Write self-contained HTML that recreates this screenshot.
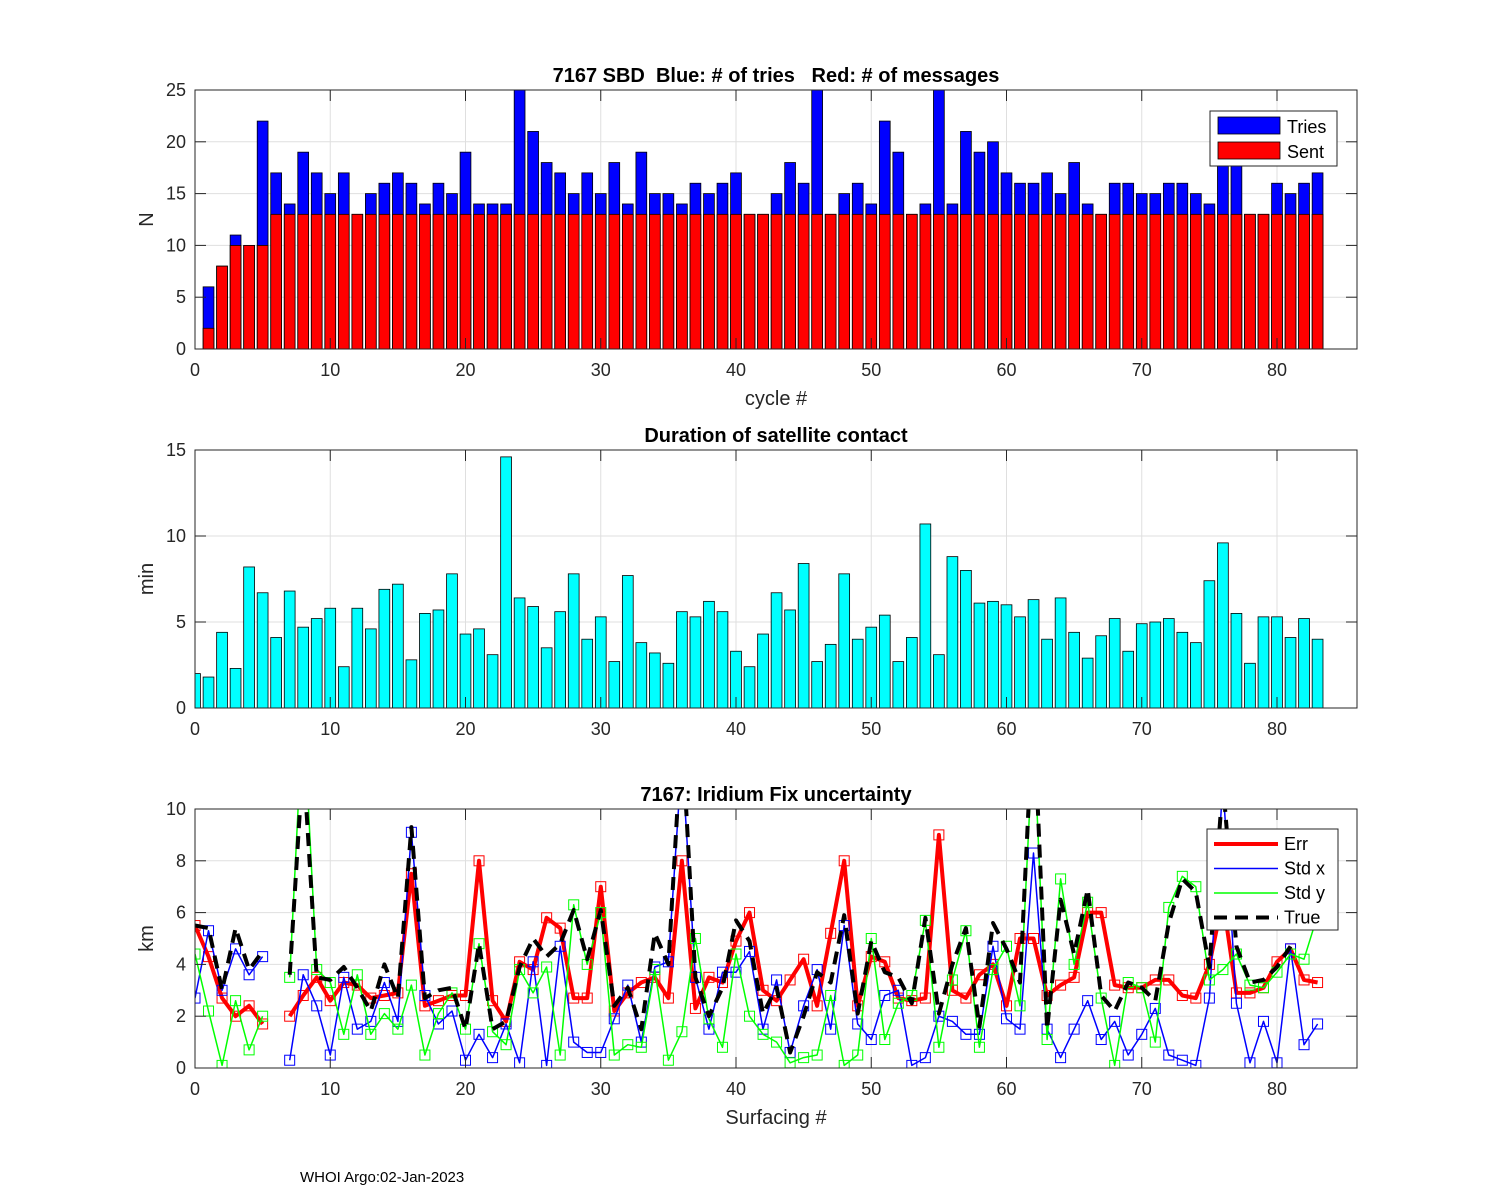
<!DOCTYPE html>
<html><head><meta charset="utf-8"><style>
body{margin:0;background:#fff;}
svg{display:block;font-family:"Liberation Sans",Arial,sans-serif;}
text{white-space:pre;}
</style></head><body>
<svg id="fig" width="1500" height="1200" viewBox="0 0 1500 1200">
<defs>
<clipPath id="c1"><rect x="195" y="90" width="1162" height="259"/></clipPath>
<clipPath id="c2"><rect x="195" y="450" width="1162" height="258"/></clipPath>
<clipPath id="c3"><rect x="195" y="809" width="1162" height="259"/></clipPath>
</defs>
<g id="p1"></g>
<g id="p2"></g>
<g id="p3"></g>
<text x="300" y="1182" font-size="15">WHOI Argo:02-Jan-2023</text>
</svg>
<script>
const cycles = Array.from({length:83},(_, i)=>i+1);
const tries = [6,8,11,10,22,17,14,19,17,15,17,13,15,16,17,16,14,16,15,19,14,14,14,25,21,18,17,15,17,15,18,14,19,15,15,14,16,15,16,17,13,13,15,18,16,25,13,15,16,14,22,19,13,14,25,14,21,19,20,17,16,16,17,15,18,14,13,16,16,15,15,16,16,15,14,18,19,13,13,16,15,16,17];
const sent = [2,8,10,10,10,13,13,13,13,13,13,13,13,13,13,13,13,13,13,13,13,13,13,13,13,13,13,13,13,13,13,13,13,13,13,13,13,13,13,13,13,13,13,13,13,13,13,13,13,13,13,13,13,13,13,13,13,13,13,13,13,13,13,13,13,13,13,13,13,13,13,13,13,13,13,13,13,13,13,13,13,13,13];
const durCycles = Array.from({length:84},(_, i)=>i);
const duration = [2.0,1.8,4.4,2.3,8.2,6.7,4.1,6.8,4.7,5.2,5.8,2.4,5.8,4.6,6.9,7.2,2.8,5.5,5.7,7.8,4.3,4.6,3.1,14.6,6.4,5.9,3.5,5.6,7.8,4.0,5.3,2.7,7.7,3.8,3.2,2.6,5.6,5.3,6.2,5.6,3.3,2.4,4.3,6.7,5.7,8.4,2.7,3.7,7.8,4.0,4.7,5.4,2.7,4.1,10.7,3.1,8.8,8.0,6.1,6.2,6.0,5.3,6.3,4.0,6.4,4.4,2.9,4.2,5.2,3.3,4.9,5.0,5.2,4.4,3.8,7.4,9.6,5.5,2.6,5.3,5.3,4.1,5.2,4.0];
const surf = Array.from({length:84},(_, i)=>i);
const err = [5.5,4.3,2.7,2.0,2.4,1.7,null,2.0,2.8,3.5,2.6,3.3,3.2,2.7,2.8,2.9,7.5,2.4,2.6,2.8,2.8,8.0,2.6,1.8,4.1,3.8,5.8,5.4,2.7,2.7,7.0,2.2,2.9,3.3,3.5,2.7,8.0,2.3,3.5,3.3,4.9,6.0,3.0,2.6,3.4,4.2,2.4,5.2,8.0,2.4,4.3,4.1,2.7,2.6,2.7,9.0,3.0,2.7,3.6,4.0,2.4,5.0,5.0,2.8,3.2,3.5,6.0,6.0,3.2,3.1,3.1,3.4,3.4,2.8,2.7,4.0,6.5,2.9,2.9,3.1,4.1,4.6,3.4,3.3];
const stdx = [2.7,5.3,3.0,4.6,3.6,4.3,null,0.3,3.6,2.4,0.5,3.5,1.5,1.8,3.3,1.8,9.1,2.8,1.7,2.2,0.3,1.3,0.4,1.7,0.2,4.1,0.1,4.7,1.0,0.6,0.6,1.9,3.2,1.0,3.9,4.1,12,3.5,1.5,3.7,3.7,4.5,1.5,3.4,0.6,2.4,3.8,1.5,5.5,1.7,1.1,2.8,3.0,0.1,0.4,2.0,1.8,1.3,1.3,4.7,1.9,1.5,8.3,1.5,0.4,1.5,2.6,1.1,1.8,0.5,1.3,2.3,0.5,0.3,0.1,2.7,11,2.5,0.2,1.8,0.2,4.6,0.9,1.7];
const stdy = [4.4,2.2,0.1,2.6,0.7,2.0,null,3.5,14,3.8,3.3,1.3,3.6,1.3,2.1,1.5,3.2,0.5,2.1,2.9,1.5,4.8,1.4,0.9,3.8,2.9,3.9,0.5,6.3,4.0,6.0,0.5,0.9,0.8,3.8,0.3,1.4,5.0,1.9,0.8,4.4,2.0,1.3,1.0,0.2,0.4,0.5,2.8,0.1,0.5,5.0,1.1,2.5,2.8,5.7,0.8,3.4,5.3,0.8,3.8,4.7,2.4,13,1.1,7.3,4.0,6.4,2.7,0.1,3.3,3.1,1.0,6.2,7.4,7.0,3.4,3.8,4.4,3.2,3.1,3.7,4.4,4.2,5.9];
const trueErr = [5.5,5.4,3.0,5.4,3.8,4.5,null,3.6,12,3.5,3.4,3.9,3.1,2.2,4.0,2.7,9.3,2.7,3.0,3.1,1.5,4.8,1.5,1.8,3.9,5.0,4.3,4.8,6.1,4.2,6.1,2.4,3.1,1.5,5.2,4.0,13,3.5,2.0,3.1,5.7,4.9,2.1,3.1,0.6,2.0,3.7,3.3,5.9,2.1,4.9,3.7,3.5,2.5,5.8,2.1,4.0,5.4,1.6,5.6,4.6,3.3,14,1.5,6.5,4.4,6.9,2.8,2.2,3.3,3.1,2.6,5.6,7.3,6.8,3.9,11,4.7,3.3,3.4,3.9,4.7,null,null];
const x1Ticks = [0,10,20,30,40,50,60,70,80];
const y1Ticks = [0,5,10,15,20,25];
const y2Ticks = [0,5,10,15];
const y3Ticks = [0,2,4,6,8,10];

const NS="http://www.w3.org/2000/svg";
function mk(parent,tag,attrs){const e=document.createElementNS(NS,tag);for(const k in attrs)e.setAttribute(k,attrs[k]);parent.appendChild(e);return e;}
const X0=195,X1=1357,XMAX=(1357-195)/13.525;
function xs(v){return X0+v*(X1-X0)/XMAX;}
function mkY(top,bot,max){return v=>bot-(v/max)*(bot-top);}

function axes(g,top,bot,yTicks,yMax,ys){
  mk(g,'rect',{x:X0,y:top,width:X1-X0,height:bot-top,fill:'#fff'});
  const grid=mk(g,'g',{stroke:'#dfdfdf','stroke-width':1});
  x1Ticks.forEach(t=>{mk(grid,'line',{x1:xs(t),x2:xs(t),y1:top,y2:bot});});
  yTicks.forEach(t=>{mk(grid,'line',{x1:X0,x2:X1,y1:ys(t),y2:ys(t)});});
}
function frame(g,top,bot,yTicks,ys,title,ylabel,xlabel){
  const f=mk(g,'g',{stroke:'#262626','stroke-width':1,fill:'none'});
  mk(f,'rect',{x:X0,y:top,width:X1-X0,height:bot-top});
  x1Ticks.forEach(t=>{mk(f,'line',{x1:xs(t),x2:xs(t),y1:bot,y2:bot-11});mk(f,'line',{x1:xs(t),x2:xs(t),y1:top,y2:top+11});});
  yTicks.forEach(t=>{mk(f,'line',{x1:X0,x2:X0+11,y1:ys(t),y2:ys(t)});mk(f,'line',{x1:X1,x2:X1-11,y1:ys(t),y2:ys(t)});});
  x1Ticks.forEach(t=>{const e=mk(g,'text',{x:xs(t),y:bot+27,'font-size':18,'text-anchor':'middle',fill:'#262626'});e.textContent=t;
    
    });
  yTicks.forEach(t=>{const e=mk(g,'text',{x:X0-9,y:ys(t)+6,'font-size':18,'text-anchor':'end',fill:'#262626'});e.textContent=t;
    
    });
  const tt=mk(g,'text',{x:(X0+X1)/2,y:top-8,'font-size':20,'font-weight':'bold','text-anchor':'middle',fill:'#000','xml:space':'preserve'});tt.textContent=title;
  
  
  const yl=mk(g,'text',{x:0,y:0,'font-size':20,'text-anchor':'middle',fill:'#262626',transform:`translate(153,${(top+bot)/2}) rotate(-90)`});yl.textContent=ylabel;
  
  
  if(xlabel){const xl=mk(g,'text',{x:(X0+X1)/2,y:bot+56,'font-size':20,'text-anchor':'middle',fill:'#262626'});xl.textContent=xlabel;
    
    }
}

// Panel 1
const p1=document.getElementById('p1');const y1=mkY(90,349,25);
axes(p1,90,349,y1Ticks,25,y1);
const b1=mk(p1,'g',{'clip-path':'url(#c1)',stroke:'#000','stroke-width':0.8});
const bw=0.8*(X1-X0)/XMAX;
cycles.forEach((c,i)=>{
  const r=mk(b1,'rect',{x:xs(c)-bw/2,y:y1(tries[i]),width:bw,height:y1(0)-y1(tries[i]),fill:'#0000ff'});
  
  
  const s=mk(b1,'rect',{x:xs(c)-bw/2,y:y1(sent[i]),width:bw,height:y1(0)-y1(sent[i]),fill:'#ff0000'});
  
  
});
frame(p1,90,349,y1Ticks,y1,'7167 SBD  Blue: # of tries   Red: # of messages','N','cycle #');
{const L=mk(p1,'g',{});
 
 
 mk(L,'rect',{x:1210,y:111,width:127,height:55,fill:'#fff',stroke:'#262626','stroke-width':1});
 mk(L,'rect',{x:1218,y:117,width:62,height:17,fill:'#0000ff',stroke:'#000','stroke-width':0.8});
 mk(L,'rect',{x:1218,y:142,width:62,height:17,fill:'#ff0000',stroke:'#000','stroke-width':0.8});
 const a=mk(L,'text',{x:1287,y:133,'font-size':18});a.textContent='Tries';
 const b=mk(L,'text',{x:1287,y:158,'font-size':18});b.textContent='Sent';}

// Panel 2
const p2=document.getElementById('p2');const y2=mkY(450,708,15);
axes(p2,450,708,y2Ticks,15,y2);
const b2=mk(p2,'g',{'clip-path':'url(#c2)',stroke:'#000','stroke-width':0.8});
durCycles.forEach((c,i)=>{
  const r=mk(b2,'rect',{x:xs(c)-bw/2,y:y2(duration[i]),width:bw,height:y2(0)-y2(duration[i]),fill:'#00ffff'});
  
  
});
frame(p2,450,708,y2Ticks,y2,'Duration of satellite contact','min',null);

// Panel 3
const p3=document.getElementById('p3');const y3=mkY(809,1068,10);
axes(p3,809,1068,y3Ticks,10,y3);
const g3=mk(p3,'g',{'clip-path':'url(#c3)',fill:'none'});
function series(vals,color,w,dash,markers,name){
  let d='',pen=false;
  vals.forEach((v,i)=>{if(v===null){pen=false;return;}d+=(pen?'L':'M')+xs(surf[i]).toFixed(1)+','+y3(v).toFixed(1);pen=true;});
  const p=mk(g3,'path',{d:d,stroke:color,'stroke-width':w,'stroke-linejoin':'round'});
  if(dash)p.setAttribute('stroke-dasharray',dash);
  
  
  if(markers)vals.forEach((v,i)=>{if(v===null)return;
    const m=mk(g3,'rect',{x:xs(surf[i])-5,y:y3(v)-5,width:10,height:10,stroke:color,'stroke-width':1});
    
    });
}
series(err,'#ff0000',4,null,true,'err');
series(stdx,'#0000ff',1.5,null,true,'std-x');
series(stdy,'#00ff00',1.5,null,true,'std-y');
series(trueErr,'#000000',4,'13,8',false,'true');
frame(p3,809,1068,y3Ticks,y3,'7167: Iridium Fix uncertainty','km','Surfacing #');
{const L=mk(p3,'g',{});
 
 
 mk(L,'rect',{x:1207,y:829,width:131,height:101,fill:'#fff',stroke:'#262626','stroke-width':1});
 const items=[['Err','#ff0000',4,null],['Std x','#0000ff',1.5,null],['Std y','#00ff00',1.5,null],['True','#000',4,'13,8']];
 items.forEach((it,k)=>{const yy=844+k*24.5;
   const l=mk(L,'line',{x1:1214,x2:1278,y1:yy,y2:yy,stroke:it[1],'stroke-width':it[2]});
   if(it[3])l.setAttribute('stroke-dasharray',it[3]);
   const t=mk(L,'text',{x:1284,y:yy+6,'font-size':18});t.textContent=it[0];});}
</script>
</body></html>
